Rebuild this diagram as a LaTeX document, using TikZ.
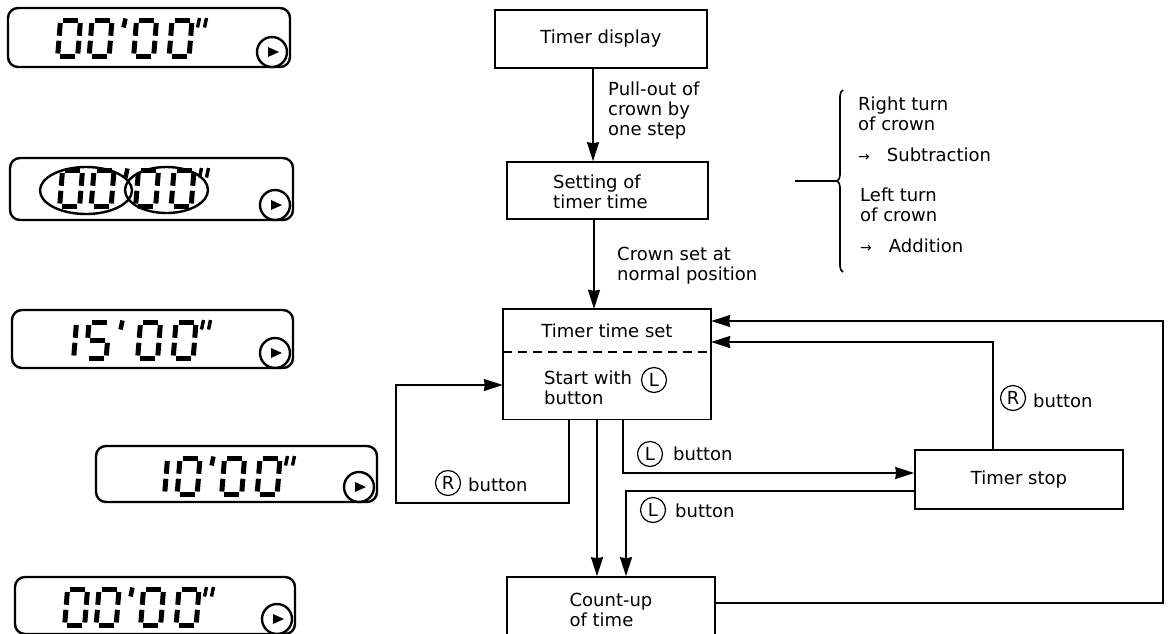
\documentclass[tikz,border=0pt]{standalone}
\usepackage{fontspec}
\setmainfont{DejaVu Sans}
\usetikzlibrary{arrows.meta,decorations.pathreplacing}
% seven-segment digit lists (W=20, H=35.5)
\def\digZ{2.5/0/17.5/0, 20/2.5/20/15.25, 20/20.25/20/33, 2.5/35.5/17.5/35.5, 0/20.25/0/33, 0/2.5/0/15.25}
\def\digO{19/2.5/19/15.25, 19/20.25/19/33}
\def\digF{2.5/0/17.5/0, 0/2.5/0/15.25, 2.5/17.75/17.5/17.75, 20/20.25/20/33, 2.5/35.5/17.5/35.5}
\newcommand{\lcddig}[3]{%
  \begin{scope}[shift={(#1,#2)},xslant=0.08]
    \foreach \ax/\ay/\bx/\by in #3 {\draw[seg] (\ax,\ay) -- (\bx,\by);}
  \end{scope}}
\newcommand{\lcdbox}[4]{%
  \draw[lcd] (#1,#2) rectangle (#3,#4);
  \draw[lcdc] (#3-18,#4-15) circle (15);
  \fill (#3-22,#4-20) -- (#3-11,#4-15) -- (#3-22,#4-10) -- cycle;}
% #1 L, #2 T, #3-#6 digits, #7 shift of the first two digits and the prime
\newcommand{\lcdtime}[7]{%
  \lcddig{#1+52.5+#7}{#2+12.5}{#3}%
  \lcddig{#1+84+#7}{#2+12.5}{#4}%
  \lcddig{#1+128.5}{#2+12.5}{#5}%
  \lcddig{#1+164}{#2+12.5}{#6}%
  \draw[seg,line width=4.5pt] (#1+117.5+#7,#2+10.5) -- (#1+115.5+#7,#2+19.5);
  \draw[seg,line width=3.4pt] (#1+191.5,#2+10) -- (#1+189.5,#2+19.5);
  \draw[seg,line width=3.4pt] (#1+198.5,#2+10) -- (#1+196.5,#2+19.5);}
\begin{document}
\begin{tikzpicture}[x=1pt,y=-1pt,
  box/.style={draw,line width=1.6pt,inner sep=0pt,font=\fontsize{18}{20}\selectfont,align=center},
  part/.style={inner sep=0pt,font=\fontsize{18}{20}\selectfont},
  txt/.style={inner sep=0pt,font=\fontsize{18}{20}\selectfont,align=left},
  boxline/.style={line width=1.6pt},
  dashline/.style={line width=1.6pt,dash pattern=on 9pt off 6pt},
  arr/.style={line width=1.6pt,-{Stealth[length=19pt,width=12pt,inset=1pt]}},
  cbtn/.style={draw,circle,minimum size=25pt,inner sep=0pt,line width=1.2pt,font=\fontsize{18}{18}\selectfont},
  lcd/.style={line width=2.4pt,rounded corners=10pt},
  lcdc/.style={line width=2.4pt},
  seg/.style={line width=5pt,line cap=butt},
  oval/.style={line width=2.4pt}]
\useasboundingbox (0,0) rectangle (1169,633);
\clip (0,0) rectangle (1169,633);

% ---------- LCD displays ----------
\lcdbox{8}{8}{290}{67}
\lcdtime{8}{8}{\digZ}{\digZ}{\digZ}{\digZ}{0}
\lcdbox{10}{158}{293}{220}
\lcdtime{10}{158}{\digZ}{\digZ}{\digZ}{\digZ}{0}
\draw[oval] (86,190.5) ellipse (46 and 23.5);
\draw[oval] (166.5,190) ellipse (41.5 and 23);
\lcdbox{12}{310}{293}{368}
\lcdtime{12}{310}{\digO}{\digF}{\digZ}{\digZ}{-7}
\lcdbox{96}{446}{377}{502}
\lcdtime{96}{446}{\digO}{\digZ}{\digZ}{\digZ}{0}
\lcdbox{15}{577}{295}{634}
\lcdtime{15}{577}{\digZ}{\digZ}{\digZ}{\digZ}{0}

% ---------- flowchart boxes ----------
\node[box,minimum width=212pt,minimum height=58pt] (td) at (601,39) {Timer display};
\node[box,minimum width=201pt,minimum height=57pt] (set) at (607.5,190.5) {};
\node[txt,anchor=north west] (settxt) at (553,175) {Setting of\\timer time};
\node[part,minimum width=208pt,minimum height=43pt] (tts) at (607,330.5) {Timer time set};
\node[part,minimum width=208pt,minimum height=67pt,anchor=north] (start) at (tts.south) {};
\draw[boxline] (tts.north west) rectangle (start.south east);
\draw[dashline] (tts.south west) -- (tts.south east);
\node[txt,anchor=north west] (starttxt) at (544,371) {Start with\\button};
\node[cbtn] (cL0) at (654,380) {L};
\node[box,minimum width=208pt,minimum height=59pt] (stop) at (1019,479.5) {Timer stop};
\node[box,minimum width=208pt,minimum height=65pt,align=left] (cu) at (611,609.5) {Count-up\\of time};

% ---------- connector coordinates ----------
\coordinate (ax) at (593,0);
\coordinate (bx) at (594,0);
\coordinate (yc) at (0,603);
\coordinate (loopc) at (1163,321);
\coordinate (rd) at (993,342);
\coordinate (le) at (623,473);
\coordinate (lf) at (626,491);
\coordinate (gx) at (597,0);
\coordinate (h1) at (569,503);
\coordinate (h2) at (396,385);

% ---------- connectors ----------
\draw[arr] (td.south -| ax) -- (set.north -| ax);
\draw[arr] (set.south -| bx) -- (tts.north -| bx);
\draw[arr] (cu.east |- yc) -| (loopc) -- (tts.east |- loopc);
\draw[arr] (stop.north -| rd) -- (rd) -- (tts.east |- rd);
\draw[arr] (start.south -| le) -- (le) -- (stop.west |- le);
\draw[arr] (stop.west |- lf) -- (lf) -- (cu.north -| lf);
\draw[arr] (start.south -| gx) -- (cu.north -| gx);
\draw[arr] (start.south -| h1) -- (h1) -| (h2) -- (start.west |- h2);

% ---------- labels ----------
\node[txt,anchor=north west] (lab1) at (608,82) {Pull-out of\\crown by\\one step};
\node[txt,anchor=north west] (lab2) at (617,247) {Crown set at\\normal position};
\node[cbtn] (cL1) at (650,454) {L};
\node[txt,anchor=base west] (b1) at (673,460) {button};
\node[cbtn] (cL2) at (653,510) {L};
\node[txt,anchor=base west] (b2) at (675,517) {button};
\node[cbtn] (cR1) at (448,483) {R};
\node[txt,anchor=base west] (b3) at (468,491) {button};
\node[cbtn] (cR2) at (1013,398) {R};
\node[txt,anchor=base west] (b4) at (1033,407) {button};

% ---------- brace ----------
\coordinate (bt) at (843,90);
\coordinate (bb) at (843,272);
\coordinate (bl) at (795,181);
\coordinate (btip) at (837,181);
\draw[line width=1.6pt,decorate,decoration={brace,amplitude=6pt}] (bb) -- (bt);
\draw[line width=1.6pt] (bl) -- (btip);
\node[txt,anchor=north west] (rt) at (858,97) {Right turn\\of crown};
\node[txt,anchor=north west] (sub) at (858,148) {{\fontsize{14}{14}\selectfont →}\hspace{17pt}Subtraction};
\node[txt,anchor=north west] (lt) at (860,188) {Left turn\\of crown};
\node[txt,anchor=north west] (add) at (860,239) {{\fontsize{14}{14}\selectfont →}\hspace{17pt}Addition};
\end{tikzpicture}
\end{document}
